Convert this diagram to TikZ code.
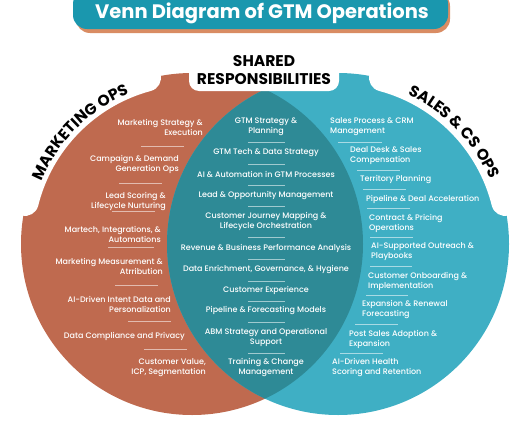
\documentclass[tikz,border=0pt]{standalone}
\usepackage{fontspec}
\setmainfont{Poppins}
\IfFontExistsTF{Poppins Medium}{\newfontfamily\itemfont{Poppins Medium}}{\newfontfamily\itemfont{Poppins}}
\usetikzlibrary{decorations.text}

\definecolor{mktorange}{HTML}{BF6A4F}
\definecolor{salesteal}{HTML}{3FAFC4}
\definecolor{sharedteal}{HTML}{2E8A96}
\definecolor{titleteal}{HTML}{1A97AE}
\definecolor{titleshadow}{HTML}{D98C63}

\newcommand{\arcfont}{\fontsize{15.5}{18}\selectfont\bfseries}

\tikzset{
  item/.style={text=white, font=\itemfont\fontsize{8}{10}\selectfont, inner sep=0pt},
  divider/.style={white, opacity=0.55, line width=0.6pt},
  band/.style={white, line width=27pt, line cap=round},
}

\begin{document}
\begin{tikzpicture}[x=1pt,y=1pt]
    \useasboundingbox (0,0) rectangle (530,-442);
	\coordinate (L) at (192,-244);
	\coordinate (R) at (338,-244);

    % the two circles and the overlap
    \fill[mktorange] (L) circle[radius=171pt];
    \fill[salesteal] (R) circle[radius=171pt];
    \begin{scope}
        \clip (L) circle[radius=171pt];
        \fill[sharedteal] (R) circle[radius=171pt];
    \end{scope}

    % title banner
    \fill[titleshadow, rounded corners=14pt] (76,8) rectangle (450,-33);
    \fill[titleteal, rounded corners=14pt] (73,10) rectangle (448,-29);
    \node[text=white, font=\fontsize{19.5}{22}\selectfont\bfseries, anchor=base] (title) at (262,-18) {Venn Diagram of GTM Operations};

    % shared header
    \fill[white, rounded corners=10pt] (189,-40) rectangle (339,-91);
    \node[align=center, font=\fontsize{15.5}{18}\selectfont\bfseries] (shared) at (264,-70) {SHARED\\RESPONSIBILITIES};

    % curved labels on white bands
    \draw[band] ([shift={(166:172pt)}]L) arc[start angle=166, end angle=105, radius=172pt];
    \draw[band] ([shift={(75:172pt)}]R) arc[start angle=75, end angle=14, radius=172pt];
    \path[decorate, decoration={text along path, text={|\arcfont|MARKETING OPS}, text align=center}]
        ([shift={(171:163pt)}]L) arc[start angle=171, end angle=99, radius=163pt];
    \path[decorate, decoration={text along path, text={|\arcfont|SALES {\&} CS OPS}, text align=center}]
        ([shift={(80:165pt)}]R) arc[start angle=80, end angle=8, radius=165pt];

    % marketing ops items
    \foreach \n/\y/\x/\t in {
        1/127/203/{Marketing Strategy \&\\Execution},
        2/164/179/{Campaign \& Demand\\Generation Ops},
        3/202/166/{Lead Scoring \&\\Lifecycle Nurturing},
        4/234/161/{Martech, Integrations, \&\\Automations},
        5/266/163/{Marketing Measurement \&\\Atrribution},
        6/304/171/{AI-Driven Intent Data and\\Personalization},
        7/336/185/{Data Compliance and Privacy},
        8/368/206/{Customer Value,\\ICP, Segmentation}}
        \node[item, anchor=east, align=right] (m\n) at (\x,-\y) {\t};
    \foreach \y/\a/\b in {146/141/184, 183/119/162, 211/112/155, 247/108/154,
        285/115/158, 321/128/171, 349/144/187}
        \draw[divider] (\a,-\y) -- (\b,-\y);

    % shared items
    \foreach \n/\y/\t in {
        1/127/{GTM Strategy \&\\Planning},
        2/153/{GTM Tech \& Data Strategy},
        3/174/{AI \& Automation in GTM Processes},
        4/196/{Lead \& Opportunity Management},
        5/221/{Customer Journey Mapping \&\\Lifecycle Orchestration},
        6/248/{Revenue \& Business Performance Analysis},
        7/270/{Data Enrichment, Governance, \& Hygiene},
        8/290/{Customer Experience},
        9/311/{Pipeline \& Forecasting Models},
        10/337/{ABM Strategy and Operational\\Support},
        11/368/{Training \& Change\\Management}}
        \node[item, align=center] (c\n) at (266,-\y) {\t};
    \foreach \y in {142,164,185,206,237,259,281,301,322,353}
        \draw[divider] (248,-\y) -- (285,-\y);

    % sales and cs ops items
    \foreach \n/\y/\x/\t in {
        1/127/330/{Sales Process \& CRM\\Management},
        2/156/350/{Deal Desk \& Sales\\Compensation},
        3/180/360/{Territory Planning},
        4/199/366/{Pipeline \& Deal Acceleration},
        5/223/369/{Contract \& Pricing\\Operations},
        6/252/371/{AI-Supported Outreach \&\\Playbooks},
        7/281/368/{Customer Onboarding \&\\Implementation},
        8/310/362/{Expansion \& Renewal\\Forecasting},
        9/339/349/{Post Sales Adoption \&\\Expansion},
        10/368/332/{AI-Driven Health\\Scoring and Retention}}
        \node[item, anchor=west, align=left] (s\n) at (\x,-\y) {\t};
    \foreach \y/\a/\b in {142/338/382, 170/357/400, 189/363/406, 208/367/410,
        237/370/413, 266/370/412, 295/366/408, 324/355/398, 353/340/383}
        \draw[divider] (\a,-\y) -- (\b,-\y);
\end{tikzpicture}
\end{document}
